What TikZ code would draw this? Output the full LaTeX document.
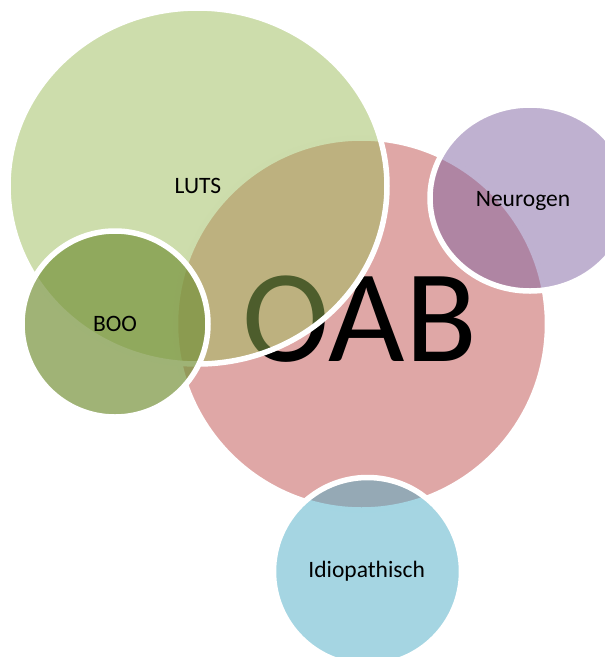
\documentclass[tikz,border=0pt]{standalone}
\usepackage{fontspec}
\setmainfont{Carlito}
\usetikzlibrary{shapes.geometric}
\definecolor{oabred}{HTML}{C0504D}
\definecolor{lutsgreen}{HTML}{9BBB59}
\definecolor{boogreen}{HTML}{77933C}
\definecolor{neuropurple}{HTML}{8064A2}
\definecolor{idioblue}{HTML}{4BACC6}
\begin{document}
\begin{tikzpicture}[x=1pt,y=-1pt,
  bubble/.style={draw=white,line width=5.5pt,inner sep=0pt,outer sep=0pt},
  lbl/.style={anchor=base,font=\fontsize{23.5}{28}\selectfont,text=black,inner sep=0pt},
  big/.style={anchor=base,font=\fontsize{132}{150}\selectfont,text=black,inner sep=0pt}]
\useasboundingbox (0,0) rectangle (605,657);
\node[bubble,circle,minimum size=372pt,fill=oabred,fill opacity=0.5] (oab) at (361.5,324) {};
\node[big] (oabt) at (360,361) {OAB};
\node[bubble,ellipse,minimum width=379pt,minimum height=356pt,fill=lutsgreen,fill opacity=0.5] (luts) at (197.5,186) {};
\node[lbl] (lutst) at (198,193) {LUTS};
\node[bubble,circle,minimum size=186pt,fill=boogreen,fill opacity=0.7] (boo) at (115,324) {};
\node[lbl] (boot) at (115,331) {BOO};
\node[bubble,ellipse,minimum width=200pt,minimum height=186pt,fill=neuropurple,fill opacity=0.5] (neuro) at (530,198) {};
\node[lbl] (neurot) at (523,206) {Neurogen};
\node[bubble,circle,minimum size=188pt,fill=idioblue,fill opacity=0.5] (idio) at (367.5,571.5) {};
\node[lbl] (idiot) at (366.7,577) {Idiopathisch};
\end{tikzpicture}
\end{document}
